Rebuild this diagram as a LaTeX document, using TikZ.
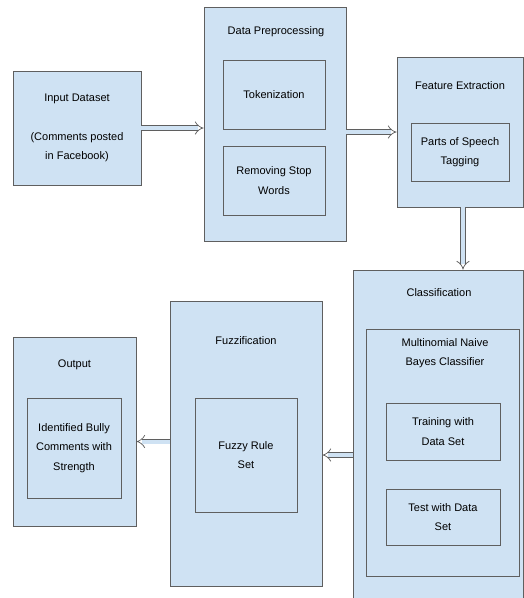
\documentclass[tikz,border=0pt]{standalone}
\usepackage{fontspec}
\setmainfont{Liberation Sans}
\usepackage{xcolor}
\usetikzlibrary{arrows.meta,calc}
\definecolor{bfill}{RGB}{207,226,243}
\definecolor{bline}{RGB}{95,95,95}
\tikzset{
  box/.style ={rectangle, draw=bline, fill=bfill, line width=0.8pt, inner sep=0pt},
  sub/.style ={box, align=center, font=\fontsize{11}{19.5}\selectfont},
  ttl/.style ={inner sep=0pt, align=center, font=\fontsize{11}{19.5}\selectfont},
  ar/.style  ={draw=bline, double=bfill, double distance=4pt, line width=0.7pt, -{Implies}}
}

\begin{document}
\begin{tikzpicture}[x=1pt, y=-1pt]
\useasboundingbox[fill=white] (0,0) rectangle (524,598);

\node[sub, minimum width=128pt, minimum height=114pt] (inp) at (77,128)
  {Input Dataset\\[19.5pt](Comments posted\\in Facebook)};

\node[box, minimum width=142pt, minimum height=234pt] (prep) at (275,124) {};
\node[ttl] (preptitle) at (276,32) {Data Preprocessing};
\node[sub, minimum width=102pt, minimum height=69pt] (tok) at (274,94.5) {Tokenization};
\node[sub, minimum width=102pt, minimum height=69pt] (stop) at (274,180.5) {Removing Stop\\Words};

\node[box, minimum width=126pt, minimum height=150pt] (feat) at (460,132) {};
\node[ttl] (feattitle) at (460,86) {Feature Extraction};
\node[sub, minimum width=98pt, minimum height=58pt] (pos) at (460,152) {Parts of Speech\\Tagging};

\node[box, minimum width=170pt, minimum height=340pt] (cls) at (438,440) {};
\node[ttl] (clstitle) at (439,293) {Classification};
\node[box, minimum width=153pt, minimum height=247pt] (mnb) at (442.5,452.5) {};
\node[ttl] (mnbtitle) at (445,353) {Multinomial Naive\\Bayes Classifier};
\node[sub, minimum width=114pt, minimum height=57pt] (train) at (443,431.5) {Training with\\Data Set};
\node[sub, minimum width=114pt, minimum height=56pt] (test) at (443,517) {Test with Data\\Set};

\node[box, minimum width=152pt, minimum height=285pt] (fuzz) at (246,443.5) {};
\node[ttl] (fuzztitle) at (246,341) {Fuzzification};
\node[sub, minimum width=102pt, minimum height=114pt] (rule) at (246,455) {Fuzzy Rule\\Set};

\node[box, minimum width=123pt, minimum height=189pt] (out) at (74.5,431.5) {};
\node[ttl] (outtitle) at (74.5,365) {Output};
\node[sub, minimum width=94pt, minimum height=100pt] (ident) at (74,448)
  {Identified Bully\\Comments with\\Strength};

% flow between the stages
\draw[ar] (inp.east) -- (inp.east -| prep.west);
\draw[ar] (prep.east |- feat.west) -- (feat.west);
\draw[ar] ([xshift=3pt]feat.south) -- ([xshift=3pt]feat.south |- cls.north);
\draw[ar] (cls.west |- rule.center) -- (fuzz.east |- rule.center);
\draw[ar] ($(fuzz.west |- out.east)+(0,10)$) -- ($(out.east)+(0,10)$);
\end{tikzpicture}
\end{document}
